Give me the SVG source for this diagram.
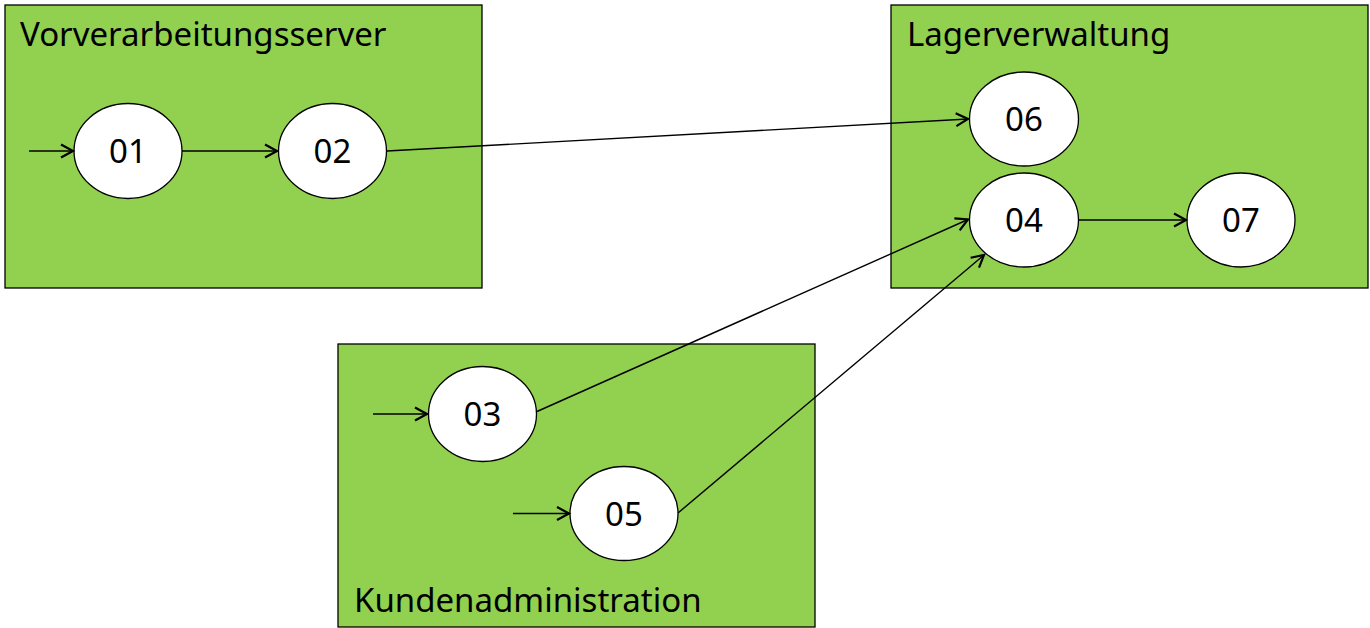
<svg xmlns="http://www.w3.org/2000/svg" width="1370" height="628" viewBox="0 0 1370 628">
<defs>
<marker id="arr" markerWidth="16" markerHeight="16" refX="13" refY="8" orient="auto" markerUnits="userSpaceOnUse">
<path d="M1,1.5 L13,8 L1,14.5" fill="none" stroke="#000" stroke-width="2.2"/>
</marker>
<style>
.box{fill:#92D050;stroke:#000;stroke-width:1.3}
.node{fill:#fff;stroke:#000;stroke-width:1.3}
.lbl{font-family:"Noto Sans","Open Sans",sans-serif;font-size:33px;fill:#000}
.num{font-family:"Noto Sans","Open Sans",sans-serif;font-size:33px;fill:#000;text-anchor:middle}
.edge{fill:none;stroke:#000;stroke-width:1.4;marker-end:url(#arr)}
</style>
</defs>
<rect width="1370" height="628" fill="#fff"/>
<g id="Vorverarbeitungsserver">
<rect class="box" x="5" y="5" width="477" height="283"/>
<text class="lbl" x="20" y="46">Vorverarbeitungsserver</text>
</g>
<g id="Lagerverwaltung">
<rect class="box" x="891" y="5" width="477" height="283"/>
<text class="lbl" x="907" y="46">Lagerverwaltung</text>
</g>
<g id="Kundenadministration">
<rect class="box" x="338" y="344" width="477" height="283"/>
<text class="lbl" x="354" y="612">Kundenadministration</text>
</g>
<g id="n01"><ellipse class="node" cx="128" cy="151" rx="54" ry="47.5"/><text class="num" x="128" y="163">01</text></g>
<g id="n02"><ellipse class="node" cx="332.5" cy="151" rx="54" ry="47.5"/><text class="num" x="332.5" y="163">02</text></g>
<g id="n06"><ellipse class="node" cx="1024" cy="119" rx="54.5" ry="47"/><text class="num" x="1024" y="131">06</text></g>
<g id="n04"><ellipse class="node" cx="1024" cy="220" rx="54.5" ry="47"/><text class="num" x="1024" y="232">04</text></g>
<g id="n07"><ellipse class="node" cx="1241" cy="220" rx="54" ry="47"/><text class="num" x="1241" y="232">07</text></g>
<g id="n03"><ellipse class="node" cx="482.5" cy="414" rx="54" ry="47.5"/><text class="num" x="482.5" y="426">03</text></g>
<g id="n05"><ellipse class="node" cx="624" cy="513.5" rx="54" ry="47"/><text class="num" x="624" y="525.5">05</text></g>
<g id="connectors">
<line class="edge" x1="29" y1="151" x2="73" y2="151"/>
<line class="edge" x1="182" y1="151" x2="277" y2="151"/>
<line class="edge" x1="387" y1="151" x2="968" y2="119"/>
<line class="edge" x1="1078.5" y1="220" x2="1186" y2="220"/>
<line class="edge" x1="373" y1="414" x2="427" y2="414"/>
<line class="edge" x1="513" y1="513.5" x2="569" y2="513.5"/>
<line class="edge" x1="537" y1="411.5" x2="968" y2="219.5"/>
<line class="edge" x1="678" y1="513" x2="984" y2="255"/>
</g>
</svg>
